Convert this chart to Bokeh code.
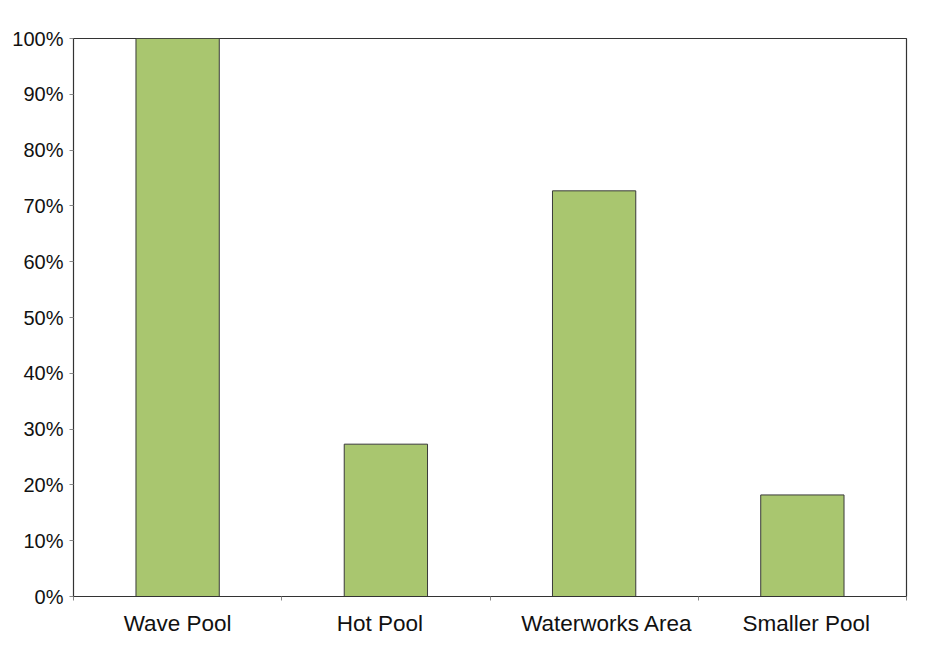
from bokeh.plotting import figure
from bokeh.models import FixedTicker, Range1d, ColumnDataSource
from bokeh.embed import file_html
from bokeh.resources import INLINE

# Share of responses per area (percent)
categories = ["Wave Pool", "Hot Pool", "Waterworks Area", "Smaller Pool"]
shares = [100.0, 27.3, 72.7, 18.2]
y_ticks = [0, 10, 20, 30, 40, 50, 60, 70, 80, 90, 100]
y_tick_labels = [f"{t}%" for t in y_ticks]

# small horizontal nudges (px) for the category captions
label_nudge = [0, -6, 13, 4]

FONT = "Liberation Sans"
PLOT_W = 925
BORDER_L, BORDER_R = 73, 19
px_per_unit = (PLOT_W - BORDER_L - BORDER_R) / len(categories)

centers = [i + 0.5 for i in range(len(categories))]
caption_pos = [round(c + d / px_per_unit, 3) for c, d in zip(centers, label_nudge)]
source = ColumnDataSource(dict(x=centers, top=shares))

p = figure(width=PLOT_W, height=654, output_backend="svg", toolbar_location=None,
           x_range=Range1d(0, len(categories)), y_range=Range1d(0, 100),
           min_border_left=BORDER_L, min_border_right=BORDER_R, min_border_top=38,
           min_border_bottom=58)

p.vbar(x="x", top="top", width=0.4, bottom=0, source=source,
       fill_color="#A9C66F", line_color="#3a3a3a", line_width=1)

p.xgrid.visible = False
p.ygrid.visible = False
p.outline_line_color = "#333333"
p.outline_line_width = 1.2

# x axis: captions under the bars, tick marks on category boundaries
xa = p.xaxis[0]
xa.ticker = FixedTicker(ticks=caption_pos, minor_ticks=list(range(len(categories) + 1)))
xa.major_label_overrides = {c: name for c, name in zip(caption_pos, categories)}
xa.major_tick_line_color = None
xa.minor_tick_line_color = "#888888"
xa.minor_tick_out = 4
xa.minor_tick_in = 0
xa.axis_line_color = "#333333"
xa.major_label_standoff = 8
xa.major_label_text_font = FONT
xa.major_label_text_font_size = "22.5px"
xa.major_label_text_color = "#111111"

ya = p.yaxis[0]
ya.ticker = FixedTicker(ticks=y_ticks, minor_ticks=[])
ya.major_label_overrides = {t: lab for t, lab in zip(y_ticks, y_tick_labels)}
ya.major_tick_line_color = "#888888"
ya.major_tick_out = 4
ya.major_tick_in = 0
ya.axis_line_color = "#333333"
ya.major_label_standoff = 6
ya.major_label_text_font = FONT
ya.major_label_text_font_size = "20px"
ya.major_label_text_color = "#111111"

open("out.html", "w").write(file_html(p, INLINE))
